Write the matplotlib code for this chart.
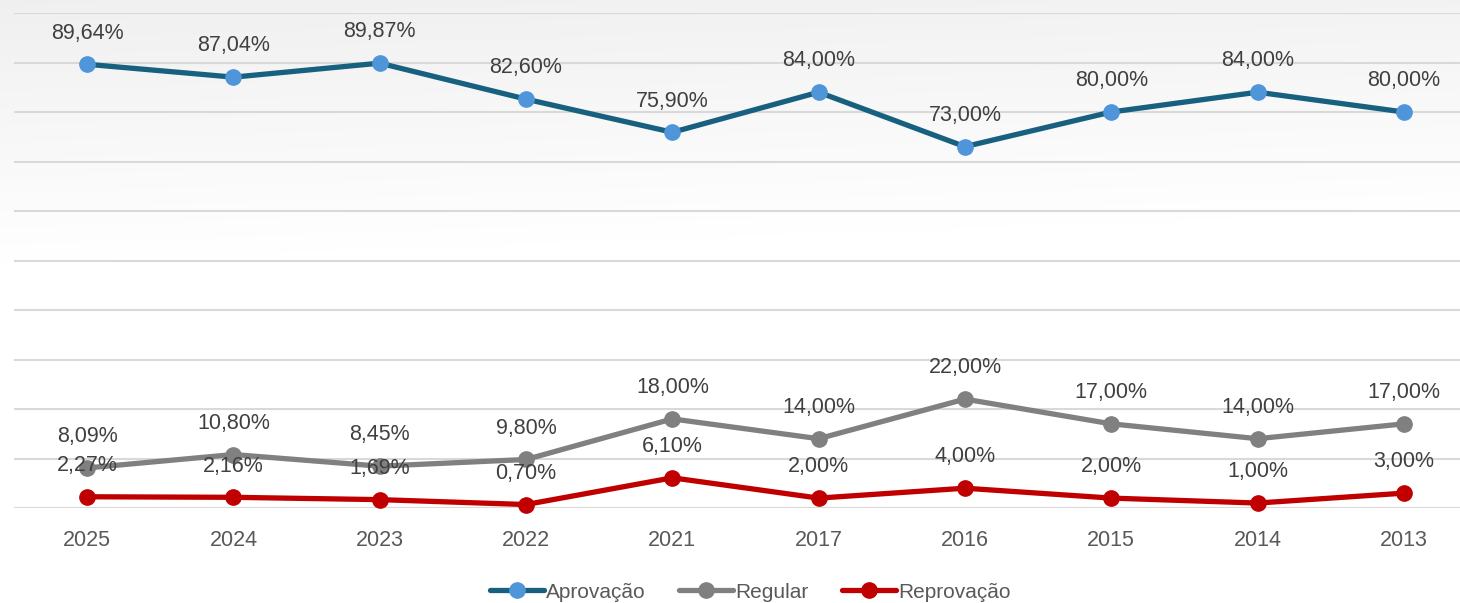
import numpy as np
import matplotlib
matplotlib.use("Agg")
import matplotlib.pyplot as plt
from matplotlib import font_manager

years = ["2025", "2024", "2023", "2022", "2021", "2017", "2016", "2015", "2014", "2013"]
aprovacao = [89.64, 87.04, 89.87, 82.60, 75.90, 84.00, 73.00, 80.00, 84.00, 80.00]
regular = [8.09, 10.80, 8.45, 9.80, 18.00, 14.00, 22.00, 17.00, 14.00, 17.00]
reprovacao = [2.27, 2.16, 1.69, 0.70, 6.10, 2.00, 4.00, 2.00, 1.00, 3.00]
series_names = ["Aprovação", "Regular", "Reprovação"]

W, H = 1460, 603
fig = plt.figure(figsize=(W / 100, H / 100), dpi=100)

# background gradient
bg = fig.add_axes([0, 0, 1, 1], zorder=-10)
yy = np.linspace(0, 1, 300)[:, None]
xx = np.linspace(0, 1, 300)[None, :]
t = np.clip(yy * 2.3 + xx * 0.2, 0, 1)
grey = 0.94 + (1.0 - 0.94) * t
img = np.dstack([grey, grey, grey])
bg.imshow(img, aspect="auto", extent=[0, 1, 1, 0], origin="upper")
bg.set_axis_off()

left = 14 / W
right = 1477 / W
bottom = (H - 508) / H
top = (H - 13) / H
ax = fig.add_axes([left, bottom, right - left, top - bottom])
ax.patch.set_alpha(0)

x = np.arange(len(years))
ax.set_xlim(-0.5, len(years) - 0.5)
ax.set_ylim(0, 100)
ax.set_yticks(np.arange(0, 101, 10))
ax.yaxis.grid(True, color="#d9d9d9", linewidth=1.5)
ax.set_axisbelow(True)
ax.tick_params(axis="y", left=False, labelleft=False)
ax.tick_params(axis="x", bottom=False, length=0, pad=16)
for s in ax.spines.values():
    s.set_visible(False)
ax.set_xticks(x)
ax.set_xticklabels(years, fontsize=15.5, color="#595959", family="Liberation Sans")

styles = [
    (aprovacao, "#17607f", "#4e95d9"),
    (regular, "#808080", "#808080"),
    (reprovacao, "#c00000", "#c00000"),
]
handles = []
for (vals, lc, mc), name in zip(styles, series_names):
    h, = ax.plot(x, vals, color=lc, linewidth=3.8, marker="o", markersize=11,
                 markerfacecolor=mc, markeredgecolor=mc, label=name,
                 solid_capstyle="round", clip_on=False)
    handles.append(h)
    for xi, v in zip(x, vals):
        ax.annotate(f"{v:.2f}".replace(".", ",") + "%", (xi, v), xytext=(0, 22.5),
                    textcoords="offset points", ha="center", va="center",
                    fontsize=15.5, color="#404040", family="Liberation Sans")

fams = {f.name for f in font_manager.fontManager.ttflist}
legfam = "Liberation Sans Narrow" if "Liberation Sans Narrow" in fams else "Liberation Sans"
fig.legend(handles=handles, labels=series_names, loc="center",
           bbox_to_anchor=(750 / W, 1 - 592 / H), ncol=3, frameon=False,
           prop={"family": legfam, "size": 15}, labelcolor="#595959",
           handlelength=2.6, handletextpad=0.1, columnspacing=1.6)

fig.savefig("out.png", dpi=100)
